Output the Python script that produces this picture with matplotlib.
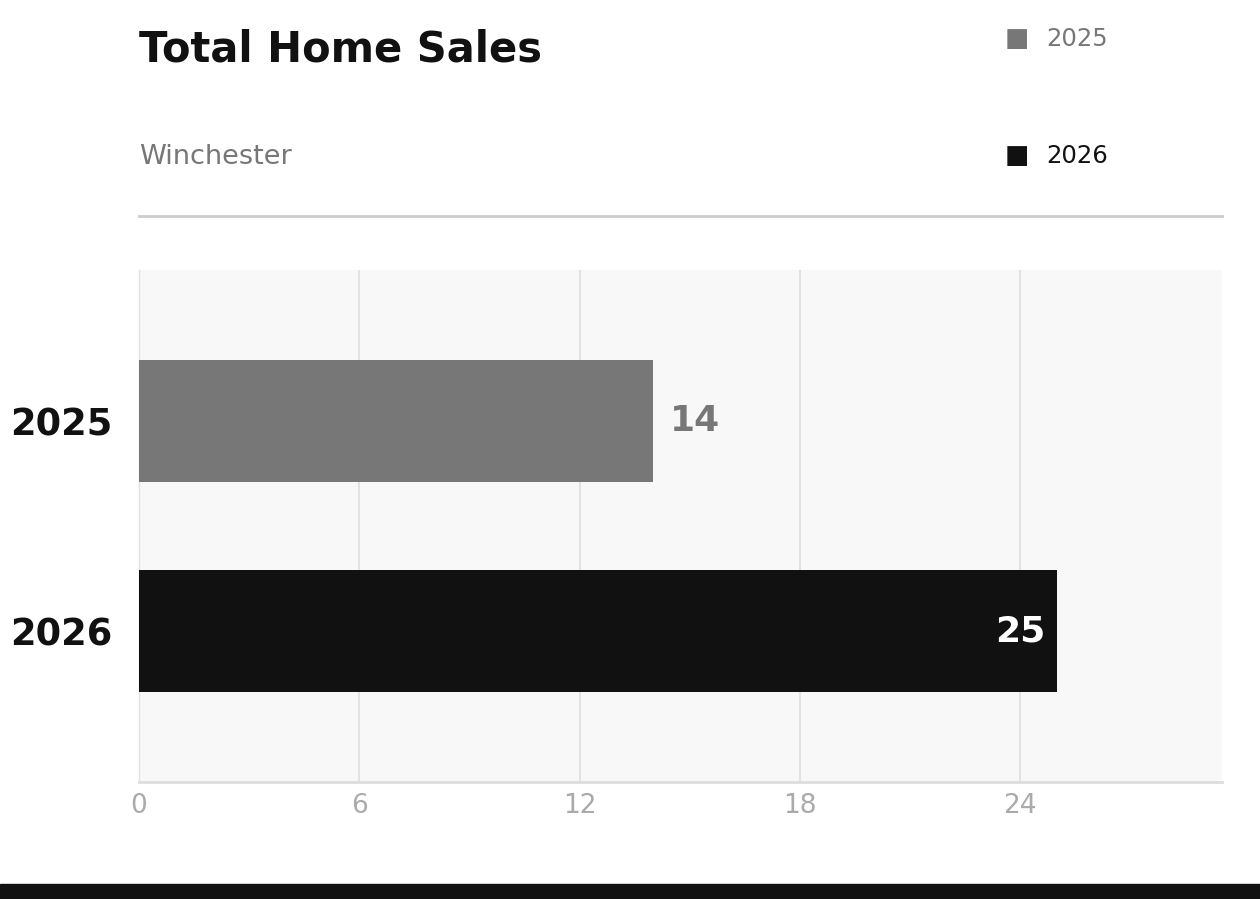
import numpy as np
import matplotlib
matplotlib.use("Agg")
import matplotlib.pyplot as plt
from matplotlib.lines import Line2D
from matplotlib.patches import Rectangle

years = ["2025", "2026"]
sales = [14, 25]
bar_colors = ["#777777", "#111111"]
xticks = [0, 6, 12, 18, 24]


def main():
    fig = plt.figure(figsize=(12.6, 8.99), dpi=100)
    fig.patch.set_facecolor("white")

    ax = fig.add_axes([139 / 1260, 117 / 899, 1083 / 1260, 512 / 899])
    ax.set_facecolor("#f8f8f8")

    ypos = np.arange(len(years))
    ax.barh(ypos, sales, height=0.58, color=bar_colors, zorder=3)

    ax.set_xlim(0, 29.5)
    ax.set_ylim(1.719, -0.719)
    ax.set_xticks(xticks)
    ax.set_xticklabels([str(t) for t in xticks])
    ax.set_yticks(ypos)
    ax.set_yticklabels(years)

    ax.grid(axis="x", color="#e2e2e2", linewidth=1.5, zorder=0)
    ax.tick_params(axis="x", length=0, pad=8, labelsize=19, labelcolor="#aaaaaa")
    ax.tick_params(axis="y", length=0, pad=19, labelsize=26.5, labelcolor="#111111")
    for lbl in ax.get_yticklabels():
        lbl.set_fontweight("bold")

    for s in ["top", "right"]:
        ax.spines[s].set_visible(False)
    ax.spines["left"].set_color("#e2e2e2")
    ax.spines["left"].set_linewidth(1)
    ax.spines["bottom"].set_color("#dddddd")
    ax.spines["bottom"].set_linewidth(2)

    # value labels
    ax.text(sales[0] + 0.45, ypos[0], str(sales[0]), va="center", ha="left",
            fontsize=26, fontweight="bold", color="#777777", zorder=4)
    ax.text(sales[1] - 0.3, ypos[1], str(sales[1]), va="center", ha="right",
            fontsize=26, fontweight="bold", color="white", zorder=4)

    # header
    fig.text(139 / 1260, 1 - 62 / 899, "Total Home Sales", fontsize=30,
             fontweight="bold", color="#111111", va="baseline", ha="left")
    fig.text(139 / 1260, 1 - 164 / 899, "Winchester", fontsize=19.5,
             color="#777777", va="baseline", ha="left")
    for label, col, base in [(years[0], bar_colors[0], 46), (years[1], bar_colors[1], 163)]:
        fig.text(1005 / 1260, 1 - base / 899, "■", fontsize=18.5,
                 color=col, va="baseline", ha="left")
        fig.text(1046 / 1260, 1 - base / 899, label, fontsize=17.5,
                 color=col, va="baseline", ha="left")

    fig.add_artist(Line2D([139 / 1260, 1222 / 1260], [1 - 216 / 899, 1 - 216 / 899],
                          color="#cccccc", linewidth=2, transform=fig.transFigure))
    fig.add_artist(Rectangle((0, 0), 1, 15 / 899, color="#111111",
                             transform=fig.transFigure))

    fig.savefig("out.png", dpi=100)


if __name__ == "__main__":
    main()
